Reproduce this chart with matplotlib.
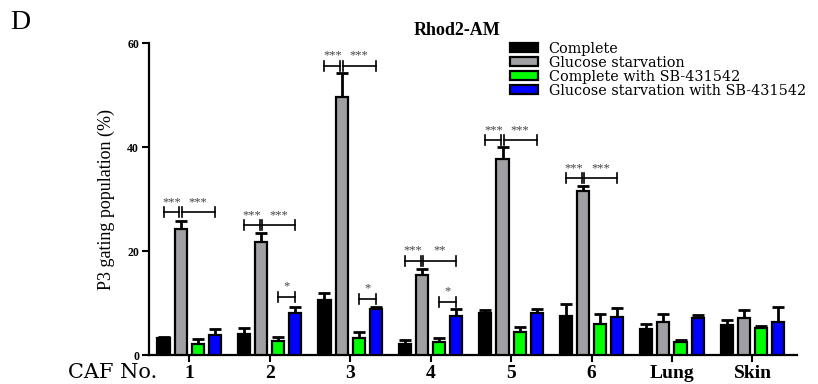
import numpy as np
import matplotlib
matplotlib.use("Agg")
import matplotlib.pyplot as plt
from matplotlib.patches import Patch

plt.rcParams['font.family'] = ['Liberation Serif', 'DejaVu Serif']

# ---- data ----
groups = ["1", "2", "3", "4", "5", "6", "Lung", "Skin"]
series = ["Complete", "Glucose starvation",
          "Complete with SB-431542", "Glucose starvation with SB-431542"]
complete      = [3.3, 4.0, 10.6, 2.1, 8.0, 7.5, 5.0, 5.8]
complete_err  = [0.2, 1.2, 1.3, 0.8, 0.6, 2.3, 0.9, 0.9]
glucose       = [24.2, 21.7, 49.6, 15.3, 37.7, 31.5, 6.4, 7.2]
glucose_err   = [1.5, 1.7, 4.6, 1.2, 2.3, 1.0, 1.5, 1.4]
sb            = [2.1, 2.7, 3.3, 2.5, 4.4, 6.0, 2.5, 5.2]
sb_err        = [0.9, 0.8, 1.2, 0.8, 1.0, 1.9, 0.4, 0.4]
glucose_sb    = [3.8, 8.0, 8.9, 7.5, 8.1, 7.3, 7.1, 6.3]
glucose_sb_err = [1.2, 1.3, 0.3, 1.3, 0.7, 1.7, 0.6, 2.9]

# significance: (group, bar_a, bar_b, y, label)
sig_marks = [
    (0, 0, 1, 27.5, "***"), (0, 1, 3, 27.5, "***"),
    (1, 0, 1, 25.0, "***"), (1, 1, 3, 25.0, "***"),
    (1, 2, 3, 11.2, "*"),
    (2, 0, 1, 55.6, "***"), (2, 1, 3, 55.6, "***"),
    (2, 2, 3, 10.8, "*"),
    (3, 0, 1, 18.1, "***"), (3, 1, 3, 18.1, "**"),
    (3, 2, 3, 10.2, "*"),
    (4, 0, 1, 41.3, "***"), (4, 1, 3, 41.3, "***"),
    (5, 0, 1, 34.0, "***"), (5, 1, 3, 34.0, "***"),
]

colors = ["#000000", "#a0a0a4", "#00ff00", "#0000ff"]
values = [complete, glucose, sb, glucose_sb]
errors = [complete_err, glucose_err, sb_err, glucose_sb_err]

fig = plt.figure(figsize=(8.18, 3.84), dpi=100)
ax = fig.add_axes([0.182, 0.0755, 0.792, 0.8125])

x = np.arange(len(groups))
pitch = 0.212
width = 0.15
offsets = (np.arange(4) - 1.5) * pitch

for i in range(4):
    ax.bar(x + offsets[i], values[i], width, color=colors[i],
           edgecolor="black", linewidth=1.6, zorder=3)
    ax.errorbar(x + offsets[i], values[i],
                yerr=[np.zeros(len(groups)), errors[i]],
                fmt="none", ecolor="black", elinewidth=2.0,
                capsize=4, capthick=2.0, zorder=2)

# significance brackets
gap = 0.015
tick_h = 1.0
for g, a, b, y, lab in sig_marks:
    xa = g + offsets[a]
    xb = g + offsets[b]
    if a == 1:
        xa += gap
    if b == 1:
        xb -= gap
    ax.plot([xa, xb], [y, y], color="black", lw=1.2, zorder=4)
    ax.plot([xa, xa], [y - tick_h, y + tick_h], color="black", lw=1.2, zorder=4)
    ax.plot([xb, xb], [y - tick_h, y + tick_h], color="black", lw=1.2, zorder=4)
    ax.text((xa + xb) / 2, y + 0.8, lab, ha="center", va="bottom",
            fontsize=9, color="#444444")

ax.set_xlim(-0.5, 7.55)
ax.set_ylim(0, 60)
ax.set_yticks([0, 20, 40, 60])
ax.set_yticklabels(["0", "20", "40", "60"], fontsize=8.5, fontweight="bold")
ax.set_xticks(x)
ax.set_xticklabels(groups, fontsize=14, fontweight="bold")
ax.tick_params(axis="y", length=5, width=1.5, pad=2)
ax.tick_params(axis="x", length=5, width=1.5, pad=2)
for s in ["top", "right"]:
    ax.spines[s].set_visible(False)
for s in ["left", "bottom"]:
    ax.spines[s].set_linewidth(1.6)

ax.set_ylabel("P3 gating population (%)", fontsize=13, labelpad=9)
ax.set_title("Rhod2-AM", fontsize=13, fontweight="bold", pad=6, x=0.475)

fig.text(0.083, 0.016, "CAF No.", fontsize=15, ha="left", va="baseline",
         family=["DejaVu Serif"])
fig.text(0.012, 0.975, "D", fontsize=20, ha="left", va="top")

handles = [Patch(facecolor=c, edgecolor="black", linewidth=1.6) for c in colors]
fig.legend(handles, series, loc="upper left", bbox_to_anchor=(0.615, 0.91),
           frameon=False, prop={"family": "DejaVu Serif", "size": 10.4},
           handlelength=1.9, handleheight=0.55,
           labelspacing=0.0, handletextpad=0.75, borderpad=0)

fig.savefig("out.png", dpi=100)
